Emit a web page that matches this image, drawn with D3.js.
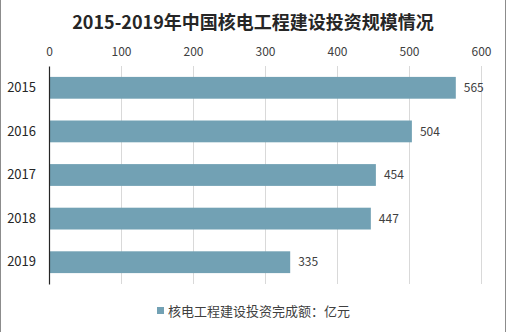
<!DOCTYPE html>
<html>
<head>
<meta charset="utf-8">
<script src="https://cdn.jsdelivr.net/npm/d3@7"></script>
<style>
  html, body { margin: 0; padding: 0; background: #fff; }
  svg { display: block; }
</style>
</head>
<body>
<svg id="chart" width="507" height="332"></svg>
<script>
// Nuclear power project construction investment, 2015-2019 (100 million yuan)
const years = ["2015", "2016", "2017", "2018", "2019"];
const investment = [565, 504, 454, 447, 335];
const xTicks = [0, 100, 200, 300, 400, 500, 600];
const titleText = "2015-2019年中国核电工程建设投资规模情况";
const legendText = "核电工程建设投资完成额：亿元";

const W = 507, H = 332;
const margin = { top: 66, left: 49, right: 26, bottom: 48 };
const font = "'Microsoft YaHei', 'Noto Sans CJK SC', 'DejaVu Sans', sans-serif";
const barColor = "#72a1b4";

const svg = d3.select("#chart");

// side frame lines
svg.append("line").attr("x1", 0.5).attr("x2", 0.5).attr("y1", 0).attr("y2", H)
  .attr("stroke", "#8c8c8c").attr("stroke-width", 1);
svg.append("line").attr("x1", W - 1.5).attr("x2", W - 1.5).attr("y1", 0).attr("y2", H)
  .attr("stroke", "#8c8c8c").attr("stroke-width", 1);

const x = d3.scaleLinear().domain([0, 600]).range([margin.left, W - margin.right]);
const y = d3.scaleBand().domain(years).range([margin.top, H - margin.bottom]).paddingInner(0.5).paddingOuter(0.25);

// title
svg.append("text")
  .attr("x", 253).attr("y", 29)
  .attr("text-anchor", "middle")
  .attr("font-family", font)
  .attr("font-size", 18).attr("font-weight", "bold")
  .attr("fill", "#262626")
  .text(titleText);

// vertical gridlines
svg.append("g").selectAll("line")
  .data(xTicks.filter(d => d > 0))
  .join("line")
  .attr("x1", d => Math.round(x(d)) + 0.5).attr("x2", d => Math.round(x(d)) + 0.5)
  .attr("y1", margin.top).attr("y2", H - margin.bottom)
  .attr("stroke", "#d9d9d9").attr("stroke-width", 1);

// top axis labels
const xAxis = svg.append("g")
  .attr("transform", `translate(0,${margin.top})`)
  .call(d3.axisTop(x).tickValues(xTicks).tickSize(0).tickPadding(10));
xAxis.select(".domain").remove();
xAxis.selectAll("text")
  .attr("font-family", font).attr("font-size", 12).attr("fill", "#404040");

// bars
svg.append("g").selectAll("rect")
  .data(years.map((yr, i) => ({ yr, v: investment[i] })))
  .join("rect")
  .attr("x", x(0))
  .attr("y", d => y(d.yr))
  .attr("width", d => x(d.v) - x(0))
  .attr("height", y.bandwidth())
  .attr("fill", barColor);

// value labels
svg.append("g").selectAll("text")
  .data(years.map((yr, i) => ({ yr, v: investment[i] })))
  .join("text")
  .attr("x", d => x(d.v) + 8)
  .attr("y", d => y(d.yr) + y.bandwidth() / 2)
  .attr("dy", "0.35em")
  .attr("font-family", font).attr("font-size", 12).attr("fill", "#404040")
  .text(d => d.v);

// category axis
const yAxis = svg.append("g")
  .attr("transform", `translate(${margin.left},0)`)
  .call(d3.axisLeft(y).tickSize(0).tickPadding(13));
yAxis.select(".domain").attr("stroke", "#262626").attr("stroke-width", 1.2);
yAxis.selectAll("text")
  .attr("font-family", font).attr("font-size", 13).attr("fill", "#262626");

// legend
const lg = svg.append("g").attr("transform", "translate(157,307)");
lg.append("rect").attr("x", 0).attr("y", 0).attr("width", 7).attr("height", 7).attr("fill", barColor);
lg.append("text")
  .attr("x", 11).attr("y", 4)
  .attr("dy", "0.35em")
  .attr("font-family", font).attr("font-size", 13).attr("fill", "#404040")
  .text(legendText);
</script>
</body>
</html>
